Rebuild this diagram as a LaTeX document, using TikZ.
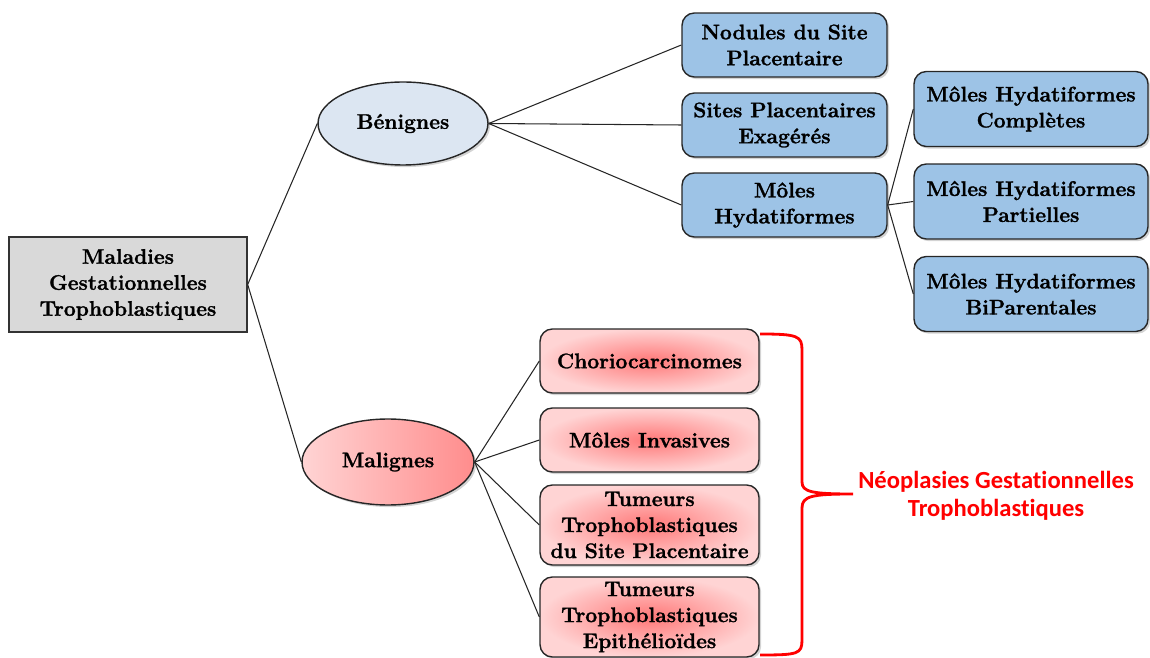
\documentclass[tikz,border=0pt]{standalone}
\usepackage{fontspec}
\setmainfont{Latin Modern Roman}[BoldFeatures={FakeBold=1.3}]
\newfontfamily\calibri{Carlito}[Ligatures=NoCommon]
\usetikzlibrary{shapes.geometric,shadows}

\definecolor{gris}{RGB}{217,217,217}
\definecolor{bleu}{RGB}{157,195,230}
\definecolor{bleuclair}{RGB}{220,230,242}
\definecolor{rougefonce}{RGB}{255,120,120}
\definecolor{rougeclair}{RGB}{255,212,212}

\tikzset{
  txt/.style={font=\fontsize{12}{14.8}\selectfont\bfseries, align=center, inner sep=2pt},
  ombre/.style={drop shadow={shadow xshift=1.2pt, shadow yshift=-1.2pt, opacity=0.35}},
  racine/.style={txt, draw=black!80, line width=0.8pt, fill=gris, minimum width=4.76cm, minimum height=1.9cm},
  benin/.style={txt, ellipse, draw=black!85, line width=0.8pt, fill=bleuclair, ombre, minimum width=3.4cm, minimum height=1.66cm},
  malin/.style={txt, ellipse, draw=black!85, line width=0.8pt, left color=rougeclair, right color=rougefonce!85, ombre, minimum width=3.44cm, minimum height=1.72cm},
  bleubox/.style={txt, rounded corners=7pt, draw=black!85, line width=0.8pt, fill=bleu, ombre, minimum width=4.1cm, minimum height=1.28cm},
  bleubig/.style={bleubox, minimum width=4.68cm, minimum height=1.5cm},
  rougebox/.style={txt, rounded corners=7pt, draw=black!85, line width=0.8pt, inner color=rougefonce, outer color=rougeclair, ombre, minimum width=4.38cm, minimum height=1.28cm},
  lien/.style={line width=0.6pt, black!85}
}

\begin{document}
\begin{tikzpicture}[x=0.02cm,y=-0.02cm]
\useasboundingbox (0,0) rectangle (1150,658);
% arbre
\node[racine] (mgt) at (128,284.5) {Maladies\\Gestationnelles\\Trophoblastiques};
\node[benin] (ben) at (403,123.5) {Bénignes};
\node[malin] (mal) at (388,462) {Malignes};
% branche benigne
\node[bleubox] (nod) at (784.5,45) {Nodules du Site\\Placentaire};
\node[bleubox] (spe) at (784.5,125) {Sites Placentaires\\Exagérés};
\node[bleubox] (mh) at (784.5,205) {Môles\\Hydatiformes};
\node[bleubig] (mhc) at (1031,109) {Môles Hydatiformes\\Complètes};
\node[bleubig] (mhp) at (1031,201.5) {Môles Hydatiformes\\Partielles};
\node[bleubig] (mhb) at (1031,294) {Môles Hydatiformes\\BiParentales};
% branche maligne
\node[rougebox] (cho) at (649.5,361) {Choriocarcinomes};
\node[rougebox] (inv) at (649.5,440) {Môles Invasives};
\node[rougebox, minimum height=1.6cm] (tsp) at (649.5,525) {Tumeurs\\Trophoblastiques\\du Site Placentaire};
\node[rougebox, minimum height=1.6cm] (tte) at (649.5,617) {Tumeurs\\Trophoblastiques\\Epithélioïdes};
% liens
\draw[lien] (mgt.east) -- (ben.west);
\draw[lien] (mgt.east) -- (mal.west);
\draw[lien] (ben.east) -- (nod.west);
\draw[lien] (ben.east) -- (spe.west);
\draw[lien] (ben.east) -- (mh.west);
\draw[lien] (mh.east) -- (mhc.west);
\draw[lien] (mh.east) -- (mhp.west);
\draw[lien] (mh.east) -- (mhb.west);
\draw[lien] (mal.east) -- (cho.west);
\draw[lien] (mal.east) -- (inv.west);
\draw[lien] (mal.east) -- (tsp.west);
\draw[lien] (mal.east) -- (tte.west);
% accolade
\draw[red, line width=1.6pt] (760,334) .. controls (798,334) and (802,336) .. (802,350)
  -- (802,482) .. controls (802,492) and (812,494) .. (853,494)
  .. controls (812,494) and (802,496) .. (802,508)
  -- (802,640) .. controls (802,654) and (798,655) .. (760,655);
\node[font=\calibri\fontsize{14}{16}\selectfont\bfseries, text=red, align=center] (ngt) at (996,496) {Néoplasies Gestationnelles\\Trophoblastiques};
\end{tikzpicture}
\end{document}
